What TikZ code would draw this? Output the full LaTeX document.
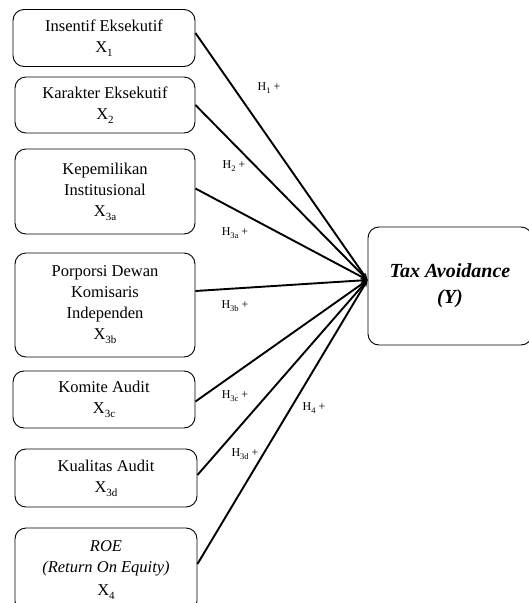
\documentclass[tikz,border=0pt]{standalone}
\usepackage{fontspec}
\setmainfont{Liberation Serif}
\usetikzlibrary{arrows.meta,calc}
\newcommand\bsub[1]{\raisebox{-4pt}{\fontsize{11}{11}\selectfont #1}}
\newcommand\hsub[1]{\raisebox{-2.5pt}{\fontsize{8.5}{8.5}\selectfont #1}}
\begin{document}
\begin{tikzpicture}[x=1pt,y=-1pt,
  box/.style={draw,rounded corners=11pt,line width=0.9pt,align=center,font=\fontsize{16.5}{21}\selectfont,inner sep=0pt},
  link/.style={line width=1.9pt,-{Stealth[length=7pt,width=5pt]}},
  hyp/.style={font=\fontsize{12}{12}\selectfont,inner sep=0pt}]
\useasboundingbox (0,0) rectangle (529,603);
\node[box,minimum width=182pt,minimum height=57pt] (b1) at (104,38) {Insentif Eksekutif\\X\bsub{1}};
\node[box,minimum width=180pt,minimum height=56pt] (b2) at (105,105) {Karakter Eksekutif\\X\bsub{2}};
\node[box,minimum width=180pt,minimum height=85pt] (b3) at (105,191.5) {Kepemilikan\\Institusional\\X\bsub{3a}};
\node[box,minimum width=180pt,minimum height=104pt] (b4) at (105,305) {Porporsi Dewan\\Komisaris\\Independen\\X\bsub{3b}};
\node[box,minimum width=182pt,minimum height=57pt] (b5) at (104,399.5) {Komite Audit\\X\bsub{3c}};
\node[box,minimum width=182pt,minimum height=58pt] (b6) at (106,478) {Kualitas Audit\\X\bsub{3d}};
\node[box,minimum width=182pt,minimum height=84pt] (b7) at (106,570) {\textit{ROE}\\\textit{(Return On Equity)}\\[2pt]X\bsub{4}};
\node[box,minimum width=164pt,minimum height=118pt,font=\fontsize{20}{26}\selectfont\bfseries\itshape] (ta) at (450,286) {Tax Avoidance\\(Y)};
\coordinate (t) at ([yshift=6pt]ta.west);
\draw[link] ([yshift=5pt]b1.east) -- (t);
\draw[link] (b2.east) -- (t);
\draw[link] ([yshift=3pt]b3.east) -- (t);
\draw[link] ([yshift=14pt]b4.east) -- (t);
\draw[link] ([yshift=-2pt]b5.east) -- (t);
\draw[link] ([yshift=3pt]b6.east) -- (t);
\draw[link] ([yshift=6pt]b7.east) -- (t);
\node[hyp] (h1) at (269,88) {H\hsub{1} +};
\node[hyp] (h2) at (234,166) {H\hsub{2} +};
\node[hyp] (h3a) at (235,233) {H\hsub{3a} +};
\node[hyp] (h3b) at (235,306) {H\hsub{3b} +};
\node[hyp] (h3c) at (235,396) {H\hsub{3c} +};
\node[hyp] (h4) at (314,408) {H\hsub{4} +};
\node[hyp] (h3d) at (245,454) {H\hsub{3d} +};
\end{tikzpicture}
\end{document}
